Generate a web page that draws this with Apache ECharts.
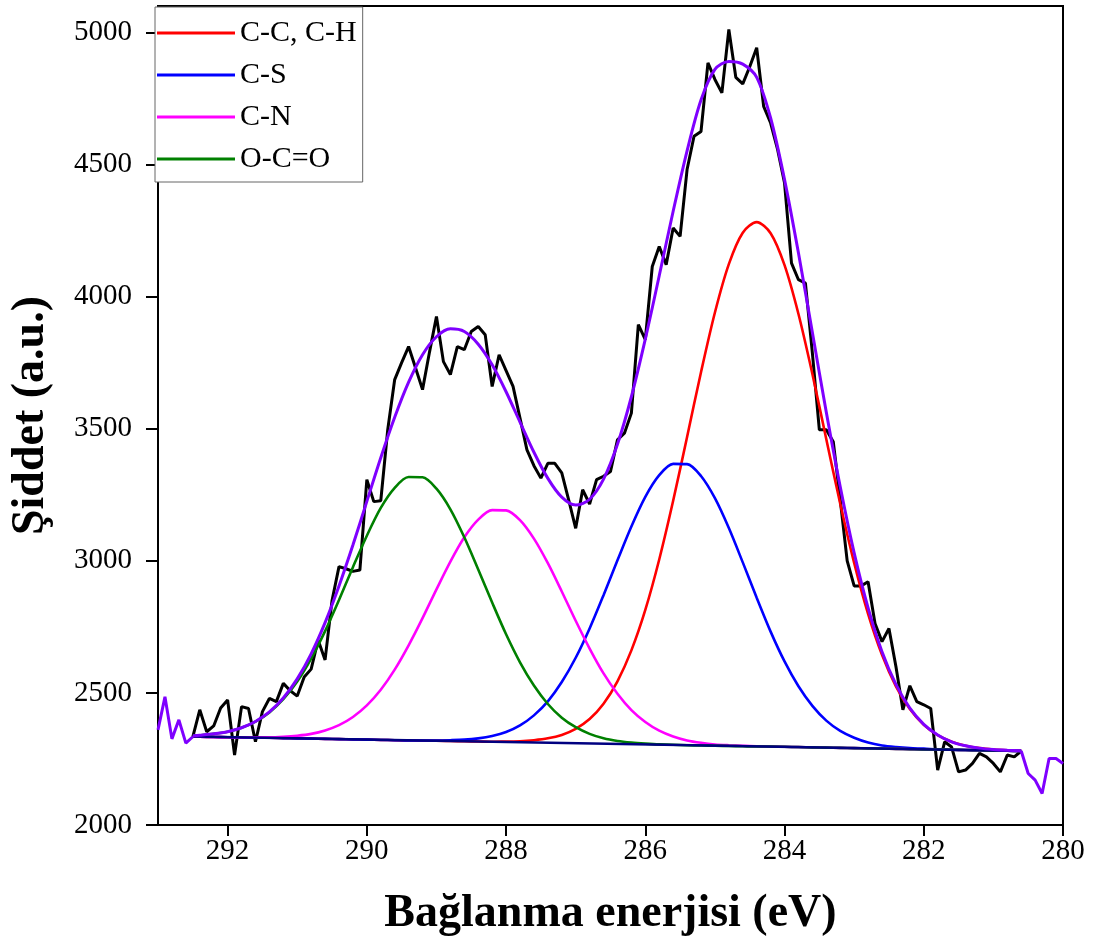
<!DOCTYPE html>
<html>
<head>
<meta charset="utf-8">
<title>C1s XPS</title>
<script src="https://cdn.jsdelivr.net/npm/echarts@6/dist/echarts.min.js"></script>
<style>
  html, body { margin: 0; padding: 0; background: #fff; }
  #main { width: 1097px; height: 945px; }
</style>
</head>
<body>
<div id="main"></div>
<script>
// olculen spektrum (siyah)
var rawE = [292.5,292.4,292.3,292.2,292.1,292.0,291.9,291.8,291.7,291.6,291.5,291.4,291.3,291.2,291.1,291.0,
  290.9,290.8,290.7,290.6,290.5,290.4,290.3,290.2,290.1,290.0,289.9,289.8,289.7,289.6,289.5,289.4,289.3,289.2,289.1,289.0,
  288.9,288.8,288.7,288.6,288.5,288.4,288.3,288.2,288.1,288.0,287.9,287.8,287.7,287.6,287.5,287.4,287.3,287.2,287.1,287.0,
  286.9,286.8,286.7,286.6,286.5,286.4,286.3,286.2,286.1,286.0,285.9,285.8,285.7,285.6,285.5,285.4,285.3,285.2,285.1,285.0,
  284.9,284.8,284.7,284.6,284.5,284.4,284.3,284.2,284.1,284.0,283.9,283.8,283.7,283.6,283.5,283.4,283.3,283.2,283.1,283.0,
  282.9,282.8,282.7,282.6,282.5,282.4,282.3,282.2,282.1,282.0,281.9,281.8,281.7,281.6,281.5,281.4,281.3,281.2,281.1,281.0,
  280.9,280.8,280.7,280.6];
var rawI = [2334,2436,2353,2375,2443,2473,2265,2448,2441,2315,2429,2479,2467,2536,2508,2488,
  2560,2590,2700,2625,2850,2978,2970,2960,2965,3307,3224,3227,3496,3686,3750,3811,3730,3648,3790,3925,
  3754,3705,3811,3799,3868,3887,3856,3660,3780,3720,3660,3540,3420,3360,3313,3369,3369,3333,3230,3123,
  3269,3215,3307,3320,3338,3458,3483,3559,3894,3837,4114,4190,4121,4260,4228,4481,4607,4625,4885,4822,
  4771,5011,4830,4805,4870,4942,4720,4657,4557,4430,4127,4064,4051,3786,3496,3496,3451,3231,3000,2905,
  2905,2921,2763,2694,2744,2600,2436,2527,2467,2455,2441,2208,2315,2295,2201,2208,2233,2271,2258,2233,
  2201,2265,2258,2280];

// fit disindaki uclar (mor)
var leftE = [293.0,292.9,292.8,292.7,292.6,292.5];
var leftI = [2360,2485,2326,2398,2310,2334];
var rightE = [280.6,280.5,280.4,280.3,280.2,280.1,280.0];
var rightI = [2280,2195,2170,2119,2252,2252,2233];

// fit egrileri
var fitE = [292.5,292.4,292.2,292.0,291.8,291.6,291.4,291.2,291.0,290.8,290.6,290.4,290.2,290.0,289.8,289.6,
  289.4,289.2,289.0,288.8,288.6,288.4,288.2,288.0,287.8,287.6,287.4,287.2,287.0,286.8,286.6,286.4,286.2,286.0,
  285.8,285.6,285.4,285.2,285.0,284.8,284.6,284.4,284.2,284.0,283.8,283.6,283.4,283.2,283.0,282.8,282.6,282.4,
  282.2,282.0,281.8,281.6,281.4,281.2,281.0,280.8,280.6];
var ccI = [2335,2334,2333,2332,2331,2330,2330,2329,2328,2327,2326,2325,2324,2323,2322,2321,
  2320,2319,2319,2318,2317,2316,2315,2316,2317,2321,2328,2341,2364,2401,2459,2544,2661,2814,
  3005,3227,3469,3714,3940,4123,4242,4282,4240,4119,3934,3707,3460,3216,2992,2799,2644,2525,
  2439,2379,2340,2315,2300,2291,2286,2283,2281];
var csI = [2335,2334,2333,2332,2331,2330,2330,2329,2328,2327,2326,2325,2324,2323,2322,2321,
  2320,2320,2320,2321,2323,2328,2337,2352,2377,2415,2468,2541,2633,2744,2870,3002,3130,3242,
  3324,3367,3366,3321,3237,3124,2994,2860,2732,2619,2525,2451,2395,2356,2330,2312,2301,2295,
  2291,2289,2286,2285,2284,2283,2282,2281,2280];
var cnI = [2335,2334,2333,2332,2332,2332,2332,2334,2338,2345,2358,2378,2409,2453,2512,2588,
  2680,2783,2892,2997,3089,3156,3192,3191,3154,3084,2991,2884,2773,2668,2574,2497,2435,2390,
  2357,2335,2320,2311,2305,2302,2300,2298,2297,2296,2295,2294,2293,2292,2291,2290,2289,2288,
  2287,2286,2286,2285,2284,2283,2282,2281,2280];
var ocoI = [2338,2340,2345,2353,2368,2391,2426,2476,2543,2630,2734,2852,2976,3095,3200,3276,
  3317,3316,3273,3195,3089,2967,2842,2722,2616,2528,2458,2406,2370,2345,2328,2318,2312,2308,
  2305,2304,2302,2301,2300,2299,2298,2297,2297,2296,2295,2294,2293,2292,2291,2290,2289,2288,
  2287,2286,2286,2285,2284,2283,2282,2281,2280];
var envI = [2338,2340,2345,2353,2368,2392,2428,2481,2553,2648,2766,2905,3060,3225,3390,3543,
  3676,3780,3848,3878,3868,3820,3742,3640,3525,3411,3312,3241,3211,3233,3309,3441,3621,3839,
  4079,4323,4552,4744,4860,4890,4880,4830,4676,4443,4165,3864,3562,3280,3030,2822,2656,2532,
  2442,2381,2341,2315,2300,2291,2286,2283,2281];

// arka plan (baseline)
var baseE = [292.5, 280.6];
var baseI = [2335, 2280];

var xTicks = [280, 282, 284, 286, 288, 290, 292];
var yTicks = [2000, 2500, 3000, 3500, 4000, 4500, 5000];

var names = ['C-C, C-H', 'C-S', 'C-N', 'O-C=O'];
var colors = ['#ff0000', '#0000ff', '#ff00ff', '#008000'];

function pairs(xs, ys){
    var out = [];
    for (var i = 0; i < xs.length; i++) out.push([xs[i], ys[i]]);
    return out;
}

var serif = 'Liberation Serif, Times New Roman, serif';

function drawChart(){
    var myChart = echarts.init(document.getElementById('main'));
    var lineBase = { type: 'line', symbol: 'none', animation: false, silent: true };
    var comps = [ccI, csI, cnI, ocoI];
    var series = [];
    series.push(Object.assign({}, lineBase, {
        name: 'raw', data: pairs(rawE, rawI),
        lineStyle: { color: '#000', width: 3 }, itemStyle: { color: '#000' }
    }));
    for (var k = 0; k < comps.length; k++) {
        series.push(Object.assign({}, lineBase, {
            name: names[k], data: pairs(fitE, comps[k]), smooth: 0.3,
            lineStyle: { color: colors[k], width: 2.6 }, itemStyle: { color: colors[k] }
        }));
    }
    series.push(Object.assign({}, lineBase, {
        name: 'baseline', data: pairs(baseE, baseI),
        lineStyle: { color: '#000080', width: 2.6 }, itemStyle: { color: '#000080' }
    }));
    series.push(Object.assign({}, lineBase, {
        name: 'fit', data: pairs(fitE, envI), smooth: 0.3,
        lineStyle: { color: '#7f00ff', width: 3 }, itemStyle: { color: '#7f00ff' }
    }));
    series.push(Object.assign({}, lineBase, {
        name: 'left', data: pairs(leftE, leftI),
        lineStyle: { color: '#7f00ff', width: 3 }, itemStyle: { color: '#7f00ff' }
    }));
    series.push(Object.assign({}, lineBase, {
        name: 'right', data: pairs(rightE, rightI),
        lineStyle: { color: '#7f00ff', width: 3 }, itemStyle: { color: '#7f00ff' }
    }));

    var option = {
        backgroundColor: '#fff',
        animation: false,
        grid: {
            left: 153, right: 34, top: 6, bottom: 120,
            show: true, borderColor: '#000', borderWidth: 2
        },
        legend: {
            data: names,
            orient: 'vertical',
            left: 155, top: 7,
            icon: 'rect',
            itemWidth: 78, itemHeight: 3,
            itemGap: 12,
            padding: [11, 6, 8, 2],
            borderColor: '#666', borderWidth: 1,
            backgroundColor: '#fff',
            textStyle: { fontFamily: serif, fontSize: 30, color: '#000' }
        },
        xAxis: {
            type: 'value', min: 280, max: 293, inverse: true,
            name: 'Bağlanma enerjisi (eV)',
            nameLocation: 'middle', nameGap: 66,
            nameTextStyle: { fontFamily: serif, fontSize: 46, fontWeight: 'bold', color: '#000' },
            axisLine: { show: true, onZero: false, lineStyle: { color: '#000', width: 2 } },
            axisTick: { show: true, inside: false, length: 11, lineStyle: { color: '#000', width: 2 }, customValues: xTicks },
            axisLabel: { fontFamily: serif, fontSize: 29, color: '#000', margin: 12, customValues: xTicks,
                formatter: function(v){ return String(v); } },
            splitLine: { show: false }
        },
        yAxis: {
            type: 'value', min: 2000, max: 5100,
            name: 'Şiddet (a.u.)',
            nameLocation: 'middle', nameGap: 104, nameRotate: 90,
            nameTextStyle: { fontFamily: serif, fontSize: 46, fontWeight: 'bold', color: '#000' },
            axisLine: { show: true, onZero: false, lineStyle: { color: '#000', width: 2 } },
            axisTick: { show: true, inside: false, length: 12, lineStyle: { color: '#000', width: 2 }, customValues: yTicks },
            axisLabel: { fontFamily: serif, fontSize: 29, color: '#000', margin: 26, customValues: yTicks,
                formatter: function(v){ return String(v); } },
            splitLine: { show: false }
        },
        series: series
    };
    myChart.setOption(option);
}
drawChart();
</script>
</body>
</html>
